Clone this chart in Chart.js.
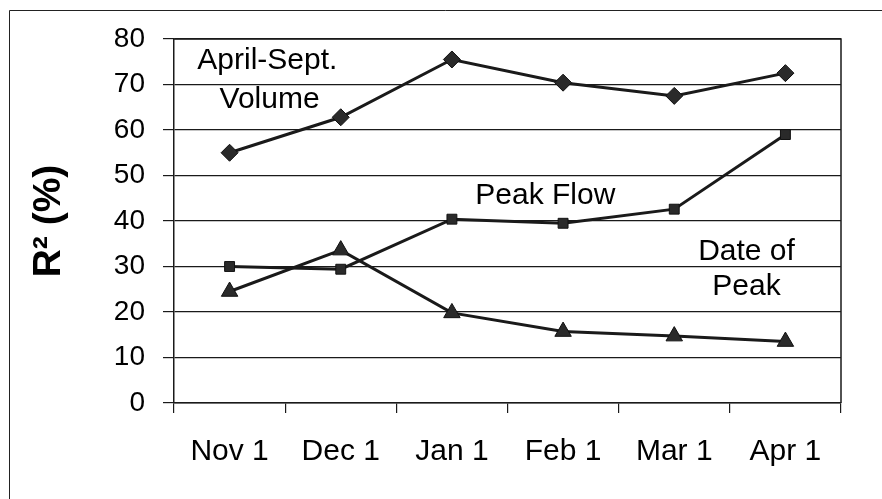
<!DOCTYPE html>
<html>
<head>
<meta charset="utf-8">
<script src="https://cdn.jsdelivr.net/npm/chart.js@4/dist/chart.umd.min.js"></script>
<style>
  html, body { margin: 0; padding: 0; background: #fff; }
  #wrap { width: 882px; height: 499px; position: relative; }
</style>
</head>
<body>
<div id="wrap"><canvas id="c" width="882" height="499"></canvas></div>
<script>
// ---- data ----
const categories = ["Nov 1", "Dec 1", "Jan 1", "Feb 1", "Mar 1", "Apr 1"];
const volumeR2   = [55.0, 62.8, 75.5, 70.4, 67.5, 72.5];
const peakFlowR2 = [30.0, 29.4, 40.4, 39.5, 42.6, 59.0];
const datePeakR2 = [24.5, 33.6, 19.8, 15.7, 14.7, 13.5];
const yTicks     = [0, 10, 20, 30, 40, 50, 60, 70, 80];
// annotation labels, placed in data space (category index, value)
const annotations = [
  { text: "April-Sept.", x: 0.34, y: 75.2 },
  { text: "Volume",      x: 0.36, y: 66.6 },
  { text: "Peak Flow",   x: 2.84, y: 45.6 },
  { text: "Date of",     x: 4.65, y: 33.2 },
  { text: "Peak",        x: 4.65, y: 25.6 }
];

const FONT = "'Liberation Sans', Arial, sans-serif";
const INK = '#1a1a1a';

const frame = {
  id: 'frame',
  beforeDraw(chart) {
    const ctx = chart.ctx;
    ctx.save();
    ctx.fillStyle = '#fff';
    ctx.fillRect(0, 0, chart.width, chart.height);
    ctx.strokeStyle = '#222';
    ctx.lineWidth = 1;
    ctx.beginPath();
    ctx.moveTo(9.5, chart.height);
    ctx.lineTo(9.5, 10.5);
    ctx.lineTo(chart.width, 10.5);
    ctx.stroke();
    ctx.restore();
  },
  afterDraw(chart) {
    const ctx = chart.ctx, a = chart.chartArea;
    const xs = chart.scales.x, ys = chart.scales.y;
    ctx.save();
    ctx.strokeStyle = INK;
    ctx.lineWidth = 1.5;
    ctx.beginPath();
    ctx.moveTo(a.left, a.top);
    ctx.lineTo(a.right, a.top);
    ctx.lineTo(a.right, a.bottom);
    ctx.stroke();
    ctx.fillStyle = '#000';
    ctx.font = '30px ' + FONT;
    ctx.textAlign = 'center';
    ctx.textBaseline = 'middle';
    annotations.forEach(t => {
      ctx.fillText(t.text, xs.getPixelForValue(t.x), ys.getPixelForValue(t.y));
    });
    ctx.restore();
  }
};

const common = {
  borderColor: INK,
  backgroundColor: '#2a2a2a',
  pointBorderColor: '#111',
  borderWidth: 3,
  pointBorderWidth: 1,
  tension: 0
};

new Chart(document.getElementById('c'), {
  type: 'line',
  data: {
    labels: categories,
    datasets: [
      Object.assign({ label: 'April-Sept. Volume', data: volumeR2, pointStyle: 'rectRot', pointRadius: 8.5 }, common),
      Object.assign({ label: 'Peak Flow', data: peakFlowR2, pointStyle: 'rect', pointRadius: 7 }, common),
      Object.assign({ label: 'Date of Peak', data: datePeakR2, pointStyle: 'triangle', pointRadius: 9.5 }, common)
    ]
  },
  options: {
    responsive: false,
    animation: false,
    devicePixelRatio: 1,
    layout: { padding: { top: 39, right: 41, left: 0, bottom: 0 } },
    plugins: { legend: { display: false }, tooltip: { enabled: false } },
    scales: {
      x: {
        type: 'category',
        offset: true,
        grid: { offset: true, drawOnChartArea: false, color: INK, tickLength: 10, lineWidth: 1.2 },
        border: { color: INK, width: 1.5 },
        ticks: { color: '#000', font: { family: FONT, size: 30 }, padding: 21, maxRotation: 0, autoSkip: false },
        afterFit(s) { s.height = 96; }
      },
      y: {
        min: 0, max: 80,
        afterBuildTicks(s) { s.ticks = yTicks.map(v => ({ value: v })); },
        grid: { color: INK, lineWidth: 1.2, tickLength: 11 },
        border: { color: INK, width: 1.5 },
        ticks: { color: '#000', font: { family: FONT, size: 28 }, padding: 18 },
        title: { display: true, text: 'R² (%)', color: '#000', font: { family: FONT, size: 39, weight: 'bold' }, padding: { top: 26, bottom: 0 } },
        afterFit(s) { s.width = 174; }
      }
    }
  },
  plugins: [frame]
});
</script>
</body>
</html>
